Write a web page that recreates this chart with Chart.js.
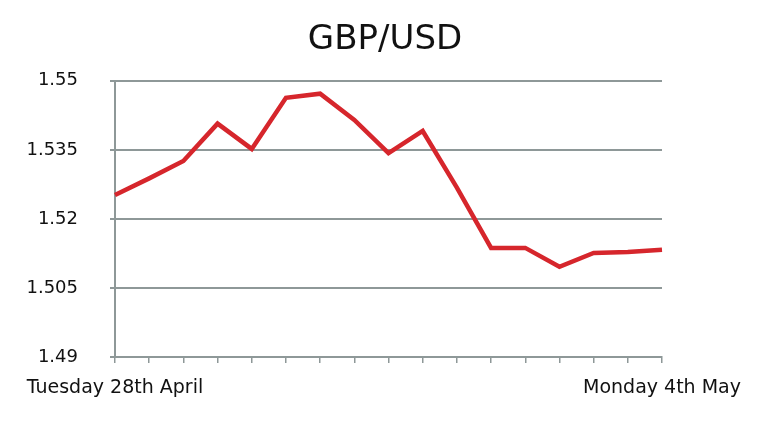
<!DOCTYPE html>
<html>
<head>
<meta charset="utf-8">
<title>GBP/USD</title>
<script src="https://cdn.jsdelivr.net/npm/chart.js@4"></script>
<style>
  html, body { margin: 0; padding: 0; background: #fff; }
  #wrap { width: 770px; height: 424px; }
</style>
</head>
<body>
<div id="wrap"><canvas id="rateChart" width="770" height="424"></canvas></div>
<script>
// --- data ---
const xLabels = [
  "Tuesday 28th April", "", "", "", "", "", "", "", "",
  "", "", "", "", "", "", "", "Monday 4th May"
];
const rates = [
  1.5252, 1.5288, 1.5326, 1.5407, 1.5352, 1.5463, 1.5472, 1.5415, 1.5343,
  1.5391, 1.5268, 1.5137, 1.5137, 1.5096, 1.5126, 1.5128, 1.5133
];
const yTicks = [1.49, 1.505, 1.52, 1.535, 1.55];

const GRID = "#8e9898";
const RED = "#d6262c";
const FONT = "'DejaVu Sans', sans-serif";

const ctx = document.getElementById("rateChart").getContext("2d");

new Chart(ctx, {
  type: "line",
  data: {
    labels: xLabels,
    datasets: [{
      label: "GBP/USD",
      data: rates,
      borderColor: RED,
      borderWidth: 4.5,
      pointRadius: 0,
      fill: false,
      tension: 0,
    }],
  },
  options: {
    responsive: false,
    animation: false,
    layout: { padding: 0 },
    plugins: {
      legend: { display: false },
      tooltip: { enabled: false },
      title: {
        display: true,
        text: "GBP/USD",
        color: "#111",
        font: { family: FONT, size: 34, weight: "normal" },
        padding: { top: 20, bottom: 20 },
      },
    },
    scales: {
      x: {
        offset: false,
        grid: {
          offset: false,
          drawOnChartArea: false,
          color: GRID,
          lineWidth: 1.5,
          tickLength: 6,
        },
        border: { color: GRID, width: 2 },
        ticks: {
          autoSkip: false,
          maxRotation: 0,
          padding: 14,
          color: "#111",
          font: { family: FONT, size: 19 },
        },
        afterFit: scale => { scale.height = 67; },
      },
      y: {
        min: 1.49,
        max: 1.55,
        afterBuildTicks: scale => {
          scale.ticks = yTicks.map(v => ({ value: v }));
        },
        grid: { color: GRID, lineWidth: 2, tickLength: 5 },
        border: { color: GRID, width: 2 },
        ticks: {
          padding: 32,
          color: "#111",
          font: { family: FONT, size: 18 },
          callback: v => String(Number(v.toFixed(3))),
        },
        afterFit: scale => { scale.width = 115; },
      },
      // empty space on the right, so the title stays centred on the page
      yRight: {
        position: "right",
        min: 1.49,
        max: 1.55,
        grid: { display: false },
        border: { display: false },
        ticks: { display: false },
        afterFit: scale => { scale.width = 108; },
      },
    },
  },
});
</script>
</body>
</html>
